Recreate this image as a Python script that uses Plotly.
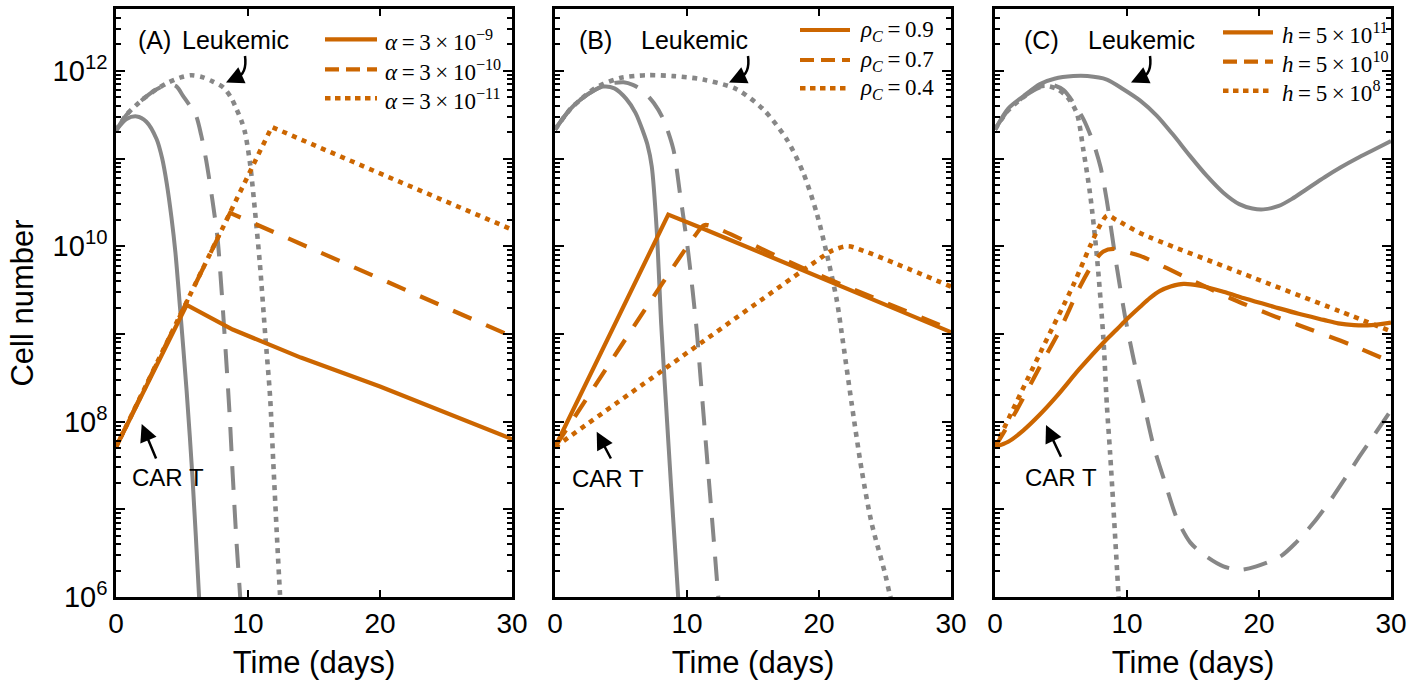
import numpy as np
import plotly.graph_objects as go

# ---------------- data (time in days, cell number as log10 exponent) ----------------
# Panel A : alpha variation
A_leuk_solid_t = [0, 0.8, 1.57, 2.3, 3.08, 3.5, 3.84, 4.2, 4.5, 4.85, 5.35, 5.8, 6.28, 6.6]
A_leuk_solid_v = [11.32, 11.45, 11.48, 11.42, 11.22, 11.0, 10.72, 10.33, 9.93, 9.3, 8.35, 7.35, 6.04, 5.1]
A_leuk_dash_t = [0, 0.8, 2.07, 3.08, 4.0, 4.6, 5.05, 5.6, 6.06, 6.45, 6.82, 7.3, 7.7, 7.95, 8.2, 8.6, 8.84, 9.14, 9.39, 9.6]
A_leuk_dash_v = [11.32, 11.5, 11.68, 11.79, 11.85, 11.82, 11.72, 11.6, 11.49, 11.27, 10.99, 10.53, 10.08, 9.6, 9.05, 8.1, 7.4, 6.6, 6.04, 5.5]
A_leuk_dot_t = [0, 0.8, 2.07, 3.08, 4.0, 5.0, 5.73, 6.5, 7.3, 8.13, 8.7, 9.14, 9.5, 9.77, 10.15, 10.53, 10.9, 11.3, 11.67, 11.92, 12.17, 12.42, 12.7]
A_leuk_dot_v = [11.32, 11.5, 11.68, 11.79, 11.87, 11.93, 11.95, 11.93, 11.88, 11.81, 11.7, 11.56, 11.43, 11.3, 10.95, 10.4, 9.8, 9.0, 8.29, 7.52, 6.76, 6.04, 5.3]
A_cart_solid_t = [0, 5.35, 8.84, 14, 20, 25, 30]
A_cart_solid_v = [7.71, 9.33, 9.05, 8.73, 8.4, 8.1, 7.8]
A_cart_dash_t = [0, 8.64, 15, 20, 27.6, 30]
A_cart_dash_v = [7.71, 10.38, 9.96, 9.63, 9.12, 8.97]
A_cart_dot_t = [0, 11.8, 20, 27.6, 30]
A_cart_dot_v = [7.71, 11.36, 10.83, 10.34, 10.19]

# Panel B : rho_C variation
B_leuk_solid_t = [0, 1.14, 2, 3, 3.66, 4.5, 5.4, 6.1, 6.69, 7.0, 7.33, 7.7, 8.05, 8.43, 8.8, 9.1, 9.33, 9.6]
B_leuk_solid_v = [11.33, 11.56, 11.68, 11.78, 11.82, 11.8, 11.68, 11.52, 11.3, 11.16, 10.91, 10.2, 9.1, 8.15, 7.25, 6.55, 6.0, 5.4]
B_leuk_dash_t = [0, 1.14, 2, 3, 3.66, 4.4, 5.2, 5.9, 6.67, 7.5, 8.2, 8.96, 9.47, 10.1, 10.73, 11.0, 11.5, 12.0, 12.37, 12.6]
B_leuk_dash_v = [11.33, 11.56, 11.68, 11.78, 11.83, 11.86, 11.87, 11.84, 11.77, 11.63, 11.45, 11.11, 10.6, 9.92, 9.05, 8.55, 7.62, 6.7, 6.0, 5.57]
B_leuk_dot_t = [0, 1.14, 2, 3, 3.66, 5, 6.95, 9, 11.24, 13.76, 15.78, 17.55, 18.8, 19.82, 20.58, 21.34, 21.72, 22.47, 23.23, 23.99, 25.0, 25.38, 26]
B_leuk_dot_v = [11.33, 11.56, 11.68, 11.8, 11.85, 11.92, 11.95, 11.94, 11.9, 11.79, 11.56, 11.22, 10.84, 10.38, 9.92, 9.39, 9.01, 8.21, 7.45, 6.84, 6.27, 6.02, 5.7]
B_cart_solid_t = [0, 8.58, 11.24, 18.8, 30]
B_cart_solid_v = [7.71, 10.36, 10.2, 9.72, 9.02]
B_cart_dash_t = [0, 10.6, 11.3, 12.0, 18.8, 30]
B_cart_dash_v = [7.71, 10.12, 10.24, 10.22, 9.75, 9.05]
B_cart_dot_t = [0, 8.2, 19.5, 21.0, 22.2, 23.5, 30]
B_cart_dot_v = [7.71, 8.59, 9.8, 9.95, 10.0, 9.94, 9.54]

# Panel C : h variation
C_leuk_solid_t = [0, 1, 2.15, 3.41, 4.5, 5.93, 7, 8.47, 9.72, 11, 12.25, 13.5, 14.77, 16, 17.3, 18.5, 19.5, 20.33, 21.5, 22.5, 23.6, 25, 26.2, 27.4, 28.7, 30]
C_leuk_solid_v = [11.33, 11.57, 11.71, 11.85, 11.91, 11.94, 11.94, 11.9, 11.79, 11.66, 11.49, 11.27, 11.03, 10.81, 10.61, 10.48, 10.43, 10.42, 10.46, 10.54, 10.65, 10.79, 10.9, 11.0, 11.1, 11.2]
C_leuk_dash_t = [0, 1, 2.15, 3.41, 4.3, 5.2, 5.93, 6.7, 7.45, 8.0, 8.46, 9.22, 9.85, 10.49, 11.24, 12.0, 12.89, 13.77, 14.8, 16.04, 17.3, 18.56, 19.8, 21.6, 22.8, 24.1, 25.4, 26.6, 27.6, 28.65, 30]
C_leuk_dash_v = [11.33, 11.55, 11.7, 11.81, 11.84, 11.78, 11.64, 11.45, 11.18, 10.9, 10.53, 9.77, 9.2, 8.72, 8.23, 7.73, 7.3, 6.9, 6.62, 6.46, 6.35, 6.31, 6.35, 6.46, 6.62, 6.84, 7.1, 7.37, 7.6, 7.83, 8.13]
C_leuk_dot_t = [0, 1, 2.15, 3.16, 3.8, 4.6, 5.43, 6.19, 6.69, 7.2, 7.71, 8.21, 8.47, 8.72, 8.96, 9.35, 9.6]
C_leuk_dot_v = [11.33, 11.55, 11.7, 11.81, 11.83, 11.8, 11.71, 11.52, 11.1, 10.6, 9.9, 8.95, 8.2, 7.64, 7.05, 6.04, 5.4]
C_cart_solid_t = [0, 1, 2.15, 3.4, 4.68, 6.4, 8.21, 9.22, 10, 11, 11.75, 12.5, 13.3, 14.28, 15.5, 17.3, 19, 21.1, 23, 24.9, 26, 27.2, 28.5, 30]
C_cart_solid_v = [7.71, 7.77, 7.9, 8.08, 8.29, 8.6, 8.9, 9.05, 9.17, 9.31, 9.41, 9.49, 9.54, 9.57, 9.55, 9.48, 9.4, 9.31, 9.23, 9.16, 9.12, 9.1, 9.1, 9.13]
C_cart_dash_t = [0, 1.64, 3.41, 4.93, 6.44, 7.5, 8.21, 8.97, 9.8, 11.0, 14.8, 17.8, 20.85, 23.9, 26.9, 30]
C_cart_dash_v = [7.71, 8.13, 8.63, 9.05, 9.54, 9.82, 9.94, 9.97, 9.94, 9.89, 9.62, 9.41, 9.22, 9.05, 8.88, 8.68]
C_cart_dot_t = [0, 3.41, 5.94, 7.2, 8.0, 8.5, 9.2, 11.0, 18.57, 26.1, 30]
C_cart_dot_v = [7.71, 8.78, 9.56, 10.0, 10.25, 10.35, 10.3, 10.15, 9.7, 9.26, 9.03]

# legend labels / texts
TS = "\u2009"  # thin space (math spacing)
A_labels = [f"<i>α</i>{TS}={TS}3{TS}×{TS}10<sup>−9</sup>", f"<i>α</i>{TS}={TS}3{TS}×{TS}10<sup>−10</sup>",
            f"<i>α</i>{TS}={TS}3{TS}×{TS}10<sup>−11</sup>"]
B_labels = [f"<i>ρ<sub>C</sub></i>{TS}={TS}0.9", f"<i>ρ<sub>C</sub></i>{TS}={TS}0.7", f"<i>ρ<sub>C</sub></i>{TS}={TS}0.4"]
C_labels = [f"<i>h</i>{TS}={TS}5{TS}×{TS}10<sup>11</sup>", f"<i>h</i>{TS}={TS}5{TS}×{TS}10<sup>10</sup>",
            f"<i>h</i>{TS}={TS}5{TS}×{TS}10<sup>8</sup>"]
panel_tags = ["(A)", "(B)", "(C)"]
x_ticks = [0, 10, 20, 30]
y_exponents = list(range(6, 13))

# ---------------- styling ----------------
ORANGE = "#CC6600"
GRAY = "#878787"
SANS = "Liberation Sans, Arial, Helvetica, sans-serif"
SERIF = "Liberation Serif, Times New Roman, serif"

W, H = 1422, 683
ML, MR, MT, MB = 116, 31, 9, 86
PW, PH = W - ML - MR, H - MT - MB
panel_left = [116, 555, 995]
panel_w = 396


def px(x):
    return (x - ML) / PW


def py(y):
    return (H - MB - y) / PH


dash_styles = {
    "solid": dict(orange="solid", gray="solid", ow=4.2, gw=4.0, leg="solid"),
    "dash": dict(orange="20px,16px", gray="24px,15px", ow=4.2, gw=4.0, leg="14px,7px"),
    "dot": dict(orange="5px,5.5px", gray="5px,5.5px", ow=4.6, gw=4.6, leg="5.5px,4.5px"),
}

panels = [
    dict(leuk=[(A_leuk_solid_t, A_leuk_solid_v), (A_leuk_dash_t, A_leuk_dash_v), (A_leuk_dot_t, A_leuk_dot_v)],
         cart=[(A_cart_solid_t, A_cart_solid_v), (A_cart_dash_t, A_cart_dash_v), (A_cart_dot_t, A_cart_dot_v)],
         cart_shape=["linear", "linear", "linear"], labels=A_labels),
    dict(leuk=[(B_leuk_solid_t, B_leuk_solid_v), (B_leuk_dash_t, B_leuk_dash_v), (B_leuk_dot_t, B_leuk_dot_v)],
         cart=[(B_cart_solid_t, B_cart_solid_v), (B_cart_dash_t, B_cart_dash_v), (B_cart_dot_t, B_cart_dot_v)],
         cart_shape=["linear", "spline", "spline"], labels=B_labels),
    dict(leuk=[(C_leuk_solid_t, C_leuk_solid_v), (C_leuk_dash_t, C_leuk_dash_v), (C_leuk_dot_t, C_leuk_dot_v)],
         cart=[(C_cart_solid_t, C_cart_solid_v), (C_cart_dash_t, C_cart_dash_v), (C_cart_dot_t, C_cart_dot_v)],
         cart_shape=["spline", "spline", "spline"], labels=C_labels),
]
styles = ["solid", "dash", "dot"]

fig = go.Figure()
for i, p in enumerate(panels):
    xa = "x" if i == 0 else f"x{i+1}"
    ya = "y" if i == 0 else f"y{i+1}"
    for (t, v), st in zip(p["leuk"], styles):
        s = dash_styles[st]
        fig.add_trace(go.Scatter(x=t, y=10 ** np.array(v), mode="lines", xaxis=xa, yaxis=ya,
                                 line=dict(color=GRAY, width=s["gw"], dash=s["gray"], shape="spline", smoothing=0.8),
                                 showlegend=False, hoverinfo="skip"))
    for (t, v), st, shp, lab in zip(p["cart"], styles, p["cart_shape"], p["labels"]):
        s = dash_styles[st]
        line = dict(color=ORANGE, width=s["ow"], dash=s["orange"], shape=shp)
        if shp == "spline":
            line["smoothing"] = 0.8
        fig.add_trace(go.Scatter(x=t, y=10 ** np.array(v), mode="lines", xaxis=xa, yaxis=ya,
                                 line=line, name=lab, showlegend=False, hoverinfo="skip"))

major_vals = [10.0 ** k for k in y_exponents]
major_text = [f"10<sup>{k}</sup>" if k % 2 == 0 else "" for k in y_exponents]
minor_vals = [m * 10.0 ** k for k in y_exponents[:-1] for m in range(2, 10)] + [m * 1e12 for m in range(2, 6)]

axis_common = dict(showline=True, linecolor="black", linewidth=2.5, mirror="ticks", ticks="inside",
                   tickcolor="black", tickwidth=2, showgrid=False, zeroline=False, automargin=False)

layout = dict(width=W, height=H, margin=dict(l=ML, r=MR, t=MT, b=MB), plot_bgcolor="white",
              paper_bgcolor="white", font=dict(family=SANS, color="black"), showlegend=False)
for i in range(3):
    x0 = panel_left[i]
    xkey = "xaxis" if i == 0 else f"xaxis{i+1}"
    ykey = "yaxis" if i == 0 else f"yaxis{i+1}"
    yref = "y" if i == 0 else f"y{i+1}"
    xref = "x" if i == 0 else f"x{i+1}"
    layout[xkey] = dict(axis_common, domain=[px(x0), px(x0 + panel_w)], range=[0, 30], anchor=yref,
                        tickvals=x_ticks, ticktext=[str(v) for v in x_ticks], ticklen=7,
                        tickfont=dict(family=SANS, size=28, color="black"),
                        title=dict(text="Time (days)", font=dict(family=SANS, size=31, color="black"), standoff=13))
    layout[ykey] = dict(axis_common, type="log", domain=[0, 1], range=[6, 12.705], anchor=xref,
                        tickvals=major_vals, ticktext=major_text, ticklen=9,
                        showticklabels=(i == 0),
                        tickfont=dict(family=SANS, size=29, color="black"),
                        minor=dict(tickvals=minor_vals, ticks="inside", ticklen=5, tickwidth=1.5,
                                   tickcolor="black", showgrid=False))
layout["yaxis"]["title"] = dict(text="Cell number", font=dict(family=SANS, size=31, color="black"), standoff=10)

fig.update_layout(**layout)

# ---------------- annotations & legend keys ----------------
tag_pos = [(154, 40), (595, 40), (1041.7, 40)]
leuk_pos = [(235, 40), (694, 40), (1141, 40)]
arrow_start_x = [245, 748, 1150]
cart_text = [(168.3, 477), (608.3, 478), (1060.8, 477)]
cart_tail = [(156.7, 460), (611.7, 460), (1061.7, 458.3)]
cart_tip = [(141.7, 424), (596.7, 431.7), (1046, 425)]
legend_key_x = [(325, 377), (800, 850), (1223, 1273)]
legend_text_x = [383, 858, 1280]
legend_rows = [(39.3, 69.3, 98.3), (30, 60, 88.3), (32.3, 61.7, 90.7)]

annotations = []
shapes = []
for i in range(3):
    annotations.append(dict(x=px(tag_pos[i][0]), y=py(tag_pos[i][1]), xref="paper", yref="paper",
                            xanchor="center", yanchor="middle",
                            text=panel_tags[i], showarrow=False, font=dict(family=SANS, size=25, color="black")))
    annotations.append(dict(x=px(leuk_pos[i][0]), y=py(leuk_pos[i][1]), xref="paper", yref="paper",
                            xanchor="center", yanchor="middle",
                            text="Leukemic", showarrow=False, font=dict(family=SANS, size=25, color="black")))
    sx = arrow_start_x[i]
    path = (f"M{px(sx)},{py(56)} C{px(sx + 1.5)},{py(67)} {px(sx - 1)},{py(75)} {px(sx - 9)},{py(78.5)}")
    shapes.append(dict(type="path", path=path, xref="paper", yref="paper",
                       line=dict(color="black", width=2.5)))
    annotations.append(dict(x=px(sx - 19), y=py(82.5), xref="paper", yref="paper", text="",
                            showarrow=True, ax=11, ay=-5, arrowhead=2, arrowsize=1.4, arrowwidth=2.5,
                            arrowcolor="black", standoff=0, startstandoff=0))
    annotations.append(dict(x=px(cart_text[i][0]), y=py(cart_text[i][1]), xref="paper", yref="paper",
                            xanchor="center", yanchor="middle",
                            text="CAR T", showarrow=False, font=dict(family=SANS, size=24, color="black")))
    annotations.append(dict(x=px(cart_tip[i][0]), y=py(cart_tip[i][1]), xref="paper", yref="paper", text="",
                            showarrow=True, ax=cart_tail[i][0] - cart_tip[i][0], ay=cart_tail[i][1] - cart_tip[i][1],
                            arrowhead=2, arrowsize=1.4, arrowwidth=2.5, arrowcolor="black",
                            standoff=0, startstandoff=0))
    # legend keys (line samples + labels)
    for st, row, lab in zip(styles, legend_rows[i], panels[i]["labels"]):
        s = dash_styles[st]
        shapes.append(dict(type="line", xref="paper", yref="paper",
                           x0=px(legend_key_x[i][0]), x1=px(legend_key_x[i][1]), y0=py(row), y1=py(row),
                           line=dict(color=ORANGE, width=s["ow"], dash=s["leg"])))
        annotations.append(dict(x=px(legend_text_x[i]), y=py(row + 1), xref="paper", yref="paper",
                                xanchor="left", yanchor="middle", text=lab, showarrow=False,
                                font=dict(family=SERIF, size=23, color="black")))

fig.update_layout(annotations=annotations, shapes=shapes)
fig.write_html("out.html", config={"displayModeBar": False},
               post_script="document.body.style.margin='0px';")
